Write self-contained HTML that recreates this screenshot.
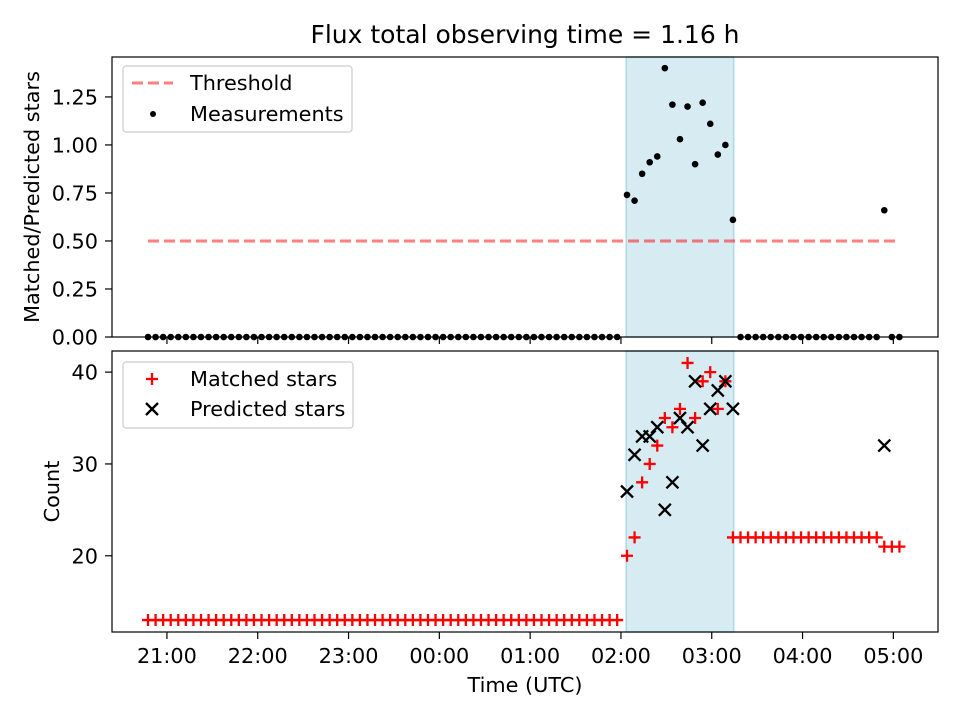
<!DOCTYPE html>
<html><head><meta charset="utf-8"><style>
html,body{margin:0;padding:0;background:#fff}
svg{display:block;font-family:"DejaVu Sans","Liberation Sans",sans-serif}
</style></head><body>
<svg id="chart" width="960" height="720" viewBox="0 0 960 720" xmlns="http://www.w3.org/2000/svg"></svg>
<script>
// minutes after 21:00 UTC
const preTimes = []; for (let t = -12.5; t <= 297.6; t += 5) preTimes.push(t);
const spanTimes = [304,309,314,319,324,329,334,339,344,349,354,359,364,369,374];
const postTimes = [379,384,389,394,399,404,409,414,419,424,429,434,439,444,449,454,459,464,469,474,479,484];
const times = preTimes.concat(spanTimes, postTimes);
const ratioSpan = [0.74,0.71,0.85,0.91,0.94,1.40,1.21,1.03,1.20,0.90,1.22,1.11,0.95,1.00,0.61];
const ratioPost = [0,0,0,0,0,0,0,0,0,0,0,0,0,0,0,0,0,0,0,0.66,0,0];
const ratio = preTimes.map(()=>0).concat(ratioSpan, ratioPost);
const matchedSpan = [20,22,28,30,32,35,34,36,41,35,39,40,36,39,22];
const matchedPost = [22,22,22,22,22,22,22,22,22,22,22,22,22,22,22,22,22,22,22,21,21,21];
const matched = preTimes.map(()=>13).concat(matchedSpan, matchedPost);
const predTimes = [304,309,314,319,324,329,334,339,344,349,354,359,364,369,374,474];
const predicted = [27,31,33,33,34,25,28,35,34,39,32,36,38,39,36,32];
const threshold = 0.5;
const spanStart = 303.5, spanEnd = 374.5;
const xTickLabels = ["21:00","22:00","23:00","00:00","01:00","02:00","03:00","04:00","05:00"];
const xTickValues = [0,60,120,180,240,300,360,420,480];
const topTicks = [0,0.25,0.5,0.75,1.0,1.25];
const botTicks = [20,30,40];

const NS="http://www.w3.org/2000/svg";
const svg=document.getElementById('chart');
function mk(tag,attrs,parent){const e=document.createElementNS(NS,tag);for(const k in attrs)e.setAttribute(k,attrs[k]);(parent||svg).appendChild(e);return e;}
const L=112,R=938;
const FS=20.8;
const xS=t=>L+(t-(-36.3))/(509.5-(-36.3))*(R-L);
const T1=57,B1=337, T2=351,B2=632;
const y1=v=>B1-(v-0)/(1.458-0)*(B1-T1);
const y2=v=>B2-(v-11.7)/(42.3-11.7)*(B2-T2);

function panel(T,B,name){
  const g=mk('g',{});
  
  
  const r=mk('rect',{x:xS(spanStart),y:T,width:xS(spanEnd)-xS(spanStart),height:B-T,fill:'#add8e6','fill-opacity':0.5,stroke:'#add8e6','stroke-width':1.5},g);
  
  
  return g;
}
function frame(T,B,g){
  const f=mk('rect',{x:L,y:T,width:R-L,height:B-T,fill:'none',stroke:'#000','stroke-width':1.2},g);
  
  
  xTickValues.forEach(v=>{mk('line',{x1:xS(v),x2:xS(v),y1:B,y2:B+7,stroke:'#000','stroke-width':1.2},g);});
}
// top panel
const g1=panel(T1,B1,'top-panel');
const th=mk('line',{x1:xS(-12.5),x2:xS(484),y1:y1(threshold),y2:y1(threshold),stroke:'#ff0000','stroke-opacity':0.5,'stroke-width':3,'stroke-dasharray':'11 5'},g1);


times.forEach((t,i)=>{
  const c=mk('circle',{cx:xS(t),cy:y1(ratio[i]),r:3.3,fill:'#000'},g1);
  
  
});
frame(T1,B1,g1);
topTicks.forEach(v=>{
  const y=y1(v);
  mk('line',{x1:L-7,x2:L,y1:y,y2:y,stroke:'#000','stroke-width':1.2},g1);
  const tx=mk('text',{x:L-14,y:y+7.5,'font-size':FS,'text-anchor':'end'},g1);tx.textContent=v.toFixed(2);
  
  
});
// bottom panel
const g2=panel(T2,B2,'bottom-panel');
function plus(x,y,g){const p=mk('path',{d:`M${x-6} ${y}H${x+6}M${x} ${y-6}V${y+6}`,stroke:'#ff0000','stroke-width':2.3},g);}
function cross(x,y,g){const p=mk('path',{d:`M${x-6} ${y-6}L${x+6} ${y+6}M${x-6} ${y+6}L${x+6} ${y-6}`,stroke:'#000','stroke-width':2.3},g);}
times.forEach((t,i)=>plus(xS(t),y2(matched[i]),g2));
predTimes.forEach((t,i)=>cross(xS(t),y2(predicted[i]),g2));
frame(T2,B2,g2);
botTicks.forEach(v=>{
  const y=y2(v);
  mk('line',{x1:L-7,x2:L,y1:y,y2:y,stroke:'#000','stroke-width':1.2},g2);
  const tx=mk('text',{x:L-14,y:y+7.5,'font-size':FS,'text-anchor':'end'},g2);tx.textContent=v;
  
  
});
xTickValues.forEach((v,i)=>{
  const tx=mk('text',{x:xS(v),y:663,'font-size':FS,'text-anchor':'middle'});tx.textContent=xTickLabels[i];
  
  
});
function txt(s,attrs,name){const t=mk('text',attrs);t.textContent=s;return t;}
txt('Flux total observing time = 1.16 h',{x:525,y:43,'font-size':25,'text-anchor':'middle'},'chart-title');
txt('Time (UTC)',{x:525,y:692,'font-size':FS,'text-anchor':'middle'},'x-axis-title');
txt('Matched/Predicted stars',{x:0,y:0,'font-size':FS,'text-anchor':'middle',transform:`translate(39,${(T1+B1)/2}) rotate(-90)`},'top-y-axis-title');
txt('Count',{x:0,y:0,'font-size':FS,'text-anchor':'middle',transform:`translate(59,${(T2+B2)/2}) rotate(-90)`},'bottom-y-axis-title');
// legends
function legend(x,y,w,h,name){const r=mk('rect',{x,y,width:w,height:h,rx:3,fill:'#fff','fill-opacity':0.8,stroke:'#ccc','stroke-width':1.2});}
legend(123,66,229,66,'top-legend');
const ll=mk('line',{x1:132,x2:173,y1:83,y2:83,stroke:'#ff0000','stroke-opacity':0.5,'stroke-width':3,'stroke-dasharray':'11 5'});

txt('Threshold',{x:190,y:90,'font-size':FS},'legend-threshold-label');
const lc=mk('circle',{cx:153,cy:114,r:3,fill:'#000'});

txt('Measurements',{x:190,y:121,'font-size':FS},'legend-measurement-label');
legend(123,362,230,66,'bottom-legend');
plus(152,379,svg);
txt('Matched stars',{x:190,y:386,'font-size':FS},'legend-matched-label');
cross(152,409,svg);
txt('Predicted stars',{x:190,y:416,'font-size':FS},'legend-predicted-label');
</script>
</body></html>
